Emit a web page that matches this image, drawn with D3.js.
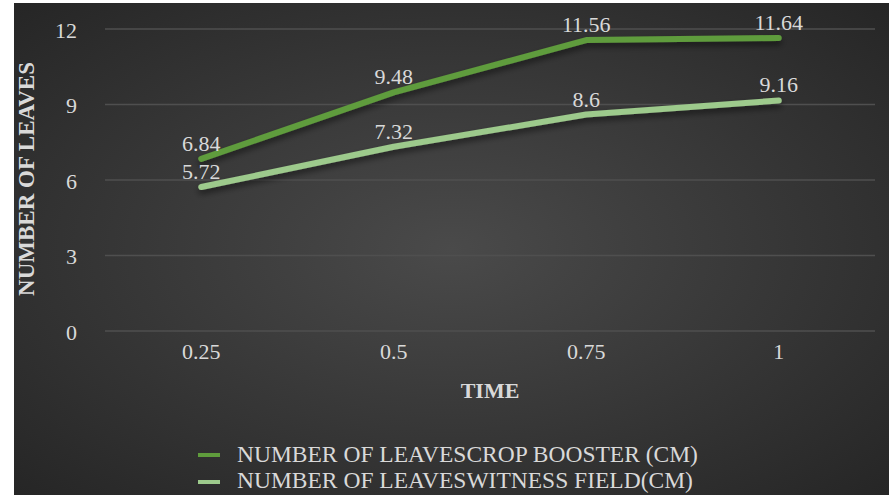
<!DOCTYPE html>
<html>
<head>
<meta charset="utf-8">
<script src="https://cdn.jsdelivr.net/npm/d3@7/dist/d3.min.js"></script>
<style>
  html, body { margin: 0; padding: 0; background: #ffffff; }
  svg { display: block; }
</style>
</head>
<body>
<svg id="chart" width="889" height="495"></svg>
<script>
// Measurement times and the two leaf-count series
const times = ["0.25", "0.5", "0.75", "1"];
const boosterValues = [6.84, 9.48, 11.56, 11.64];
const witnessValues = [5.72, 7.32, 8.6, 9.16];
const seriesNames = ["NUMBER OF LEAVESCROP BOOSTER (CM)", "NUMBER OF LEAVESWITNESS FIELD(CM)"];
const seriesColors = ["#5f9c3c", "#9dca8c"];
const yTicks = [0, 3, 6, 9, 12];

const FONT = "'Liberation Serif', Tinos, 'Times New Roman', serif";
const TEXT = "#d9d9d9";
const W = 889, H = 495;
const svg = d3.select("#chart");

// Dark panel with a soft radial glow
const defs = svg.append("defs");
const grad = defs.append("radialGradient").attr("id", "bg")
  .attr("cx", "50%").attr("cy", "50%").attr("r", "70%");
grad.append("stop").attr("offset", "0%").attr("stop-color", "#4a4a4a");
grad.append("stop").attr("offset", "100%").attr("stop-color", "#262626");

const shadow = defs.append("filter").attr("id", "shadow")
  .attr("x", "-10%").attr("y", "-30%").attr("width", "120%").attr("height", "160%");
shadow.append("feGaussianBlur").attr("in", "SourceAlpha").attr("stdDeviation", 3);
shadow.append("feOffset").attr("dx", 0).attr("dy", 4).attr("result", "b");
shadow.append("feComponentTransfer").append("feFuncA").attr("type", "linear").attr("slope", 0.5);
const merge = shadow.append("feMerge");
merge.append("feMergeNode");
merge.append("feMergeNode").attr("in", "SourceGraphic");

svg.append("rect").attr("x", 14).attr("y", 3).attr("width", W - 14).attr("height", H - 3)
  .attr("fill", "url(#bg)");

const plot = { left: 105, right: 875, top: 29, bottom: 331 };

const x = d3.scaleBand().domain(times).range([plot.left, plot.right]);
const y = d3.scaleLinear().domain([0, 12]).range([plot.bottom, plot.top]);

// Horizontal gridlines
svg.append("g").selectAll("line").data(yTicks).join("line")
  .attr("x1", plot.left).attr("x2", plot.right)
  .attr("y1", d => y(d)).attr("y2", d => y(d))
  .attr("stroke", "#4f4f4f").attr("stroke-width", 1.5);

// Y axis labels
const yAxis = d3.axisLeft(y).tickValues(yTicks).tickSize(0).tickPadding(0).tickFormat(d3.format("d"));
const gy = svg.append("g").attr("transform", `translate(77,1)`).call(yAxis);
gy.attr("font-family", null).attr("font-size", null);
gy.select(".domain").remove();
gy.selectAll("text").attr("fill", TEXT).style("font-size", "22px").style("font-family", FONT);

// X axis labels
const xAxis = d3.axisBottom(x).tickSize(0).tickPadding(0);
const gx = svg.append("g").attr("transform", `translate(0,${plot.bottom + 12})`).call(xAxis);
gx.attr("font-family", null).attr("font-size", null);
gx.select(".domain").remove();
gx.selectAll("text").attr("fill", TEXT).style("font-size", "22px").style("font-family", FONT);

// Axis titles
svg.append("text").attr("x", 490).attr("y", 398).attr("text-anchor", "middle")
  .style("font-size", "22px").style("font-family", FONT).attr("font-weight", "bold")
  .attr("fill", TEXT).text("TIME");
svg.append("text").attr("transform", "translate(34,179) rotate(-90)").attr("text-anchor", "middle")
  .style("font-size", "23px").style("font-family", FONT).attr("font-weight", "bold")
  .attr("fill", TEXT).text("NUMBER OF LEAVES");

// Lines
const line = d3.line().x((d, i) => x(times[i]) + x.bandwidth() / 2).y(d => y(d));
const allSeries = [boosterValues, witnessValues];
allSeries.forEach((vals, s) => {
  svg.append("path").datum(vals).attr("d", line)
    .attr("fill", "none").attr("stroke", seriesColors[s]).attr("stroke-width", 6)
    .attr("stroke-linecap", "round").attr("stroke-linejoin", "round")
    .attr("filter", "url(#shadow)");
});

// Data labels
allSeries.forEach((vals, s) => {
  svg.append("g").selectAll("text").data(vals).join("text")
    .attr("x", (d, i) => x(times[i]) + x.bandwidth() / 2)
    .attr("y", d => y(d) - 8)
    .attr("text-anchor", "middle").style("font-size", "22px").style("font-family", FONT)
    .attr("fill", TEXT)
    .text(d => d);
});

// Legend
const legend = svg.append("g");
seriesNames.forEach((name, s) => {
  const ly = 455 + s * 27;
  legend.append("line").attr("x1", 198).attr("x2", 220).attr("y1", ly).attr("y2", ly)
    .attr("stroke", seriesColors[s]).attr("stroke-width", 4);
  legend.append("text").attr("x", 237).attr("y", 462 + s * 26)
    .style("font-size", "23.5px").style("font-family", FONT).attr("fill", TEXT).text(name);
});
</script>
</body>
</html>
